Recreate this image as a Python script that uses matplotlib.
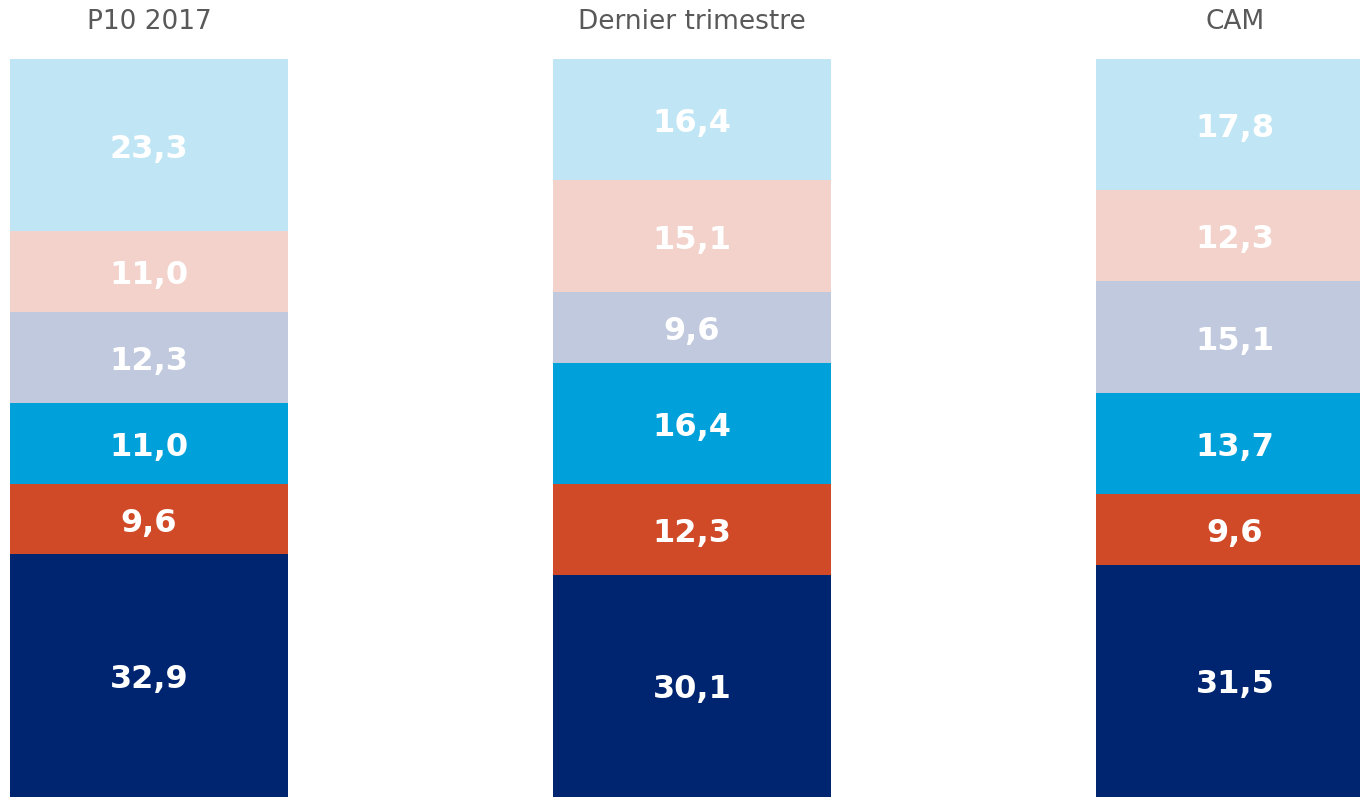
import matplotlib
matplotlib.use("Agg")
import matplotlib.pyplot as plt
import numpy as np

categories = ["P10 2017", "Dernier trimestre", "CAM"]
# segments from bottom to top
seg1 = [32.9, 30.1, 31.5]
seg2 = [9.6, 12.3, 9.6]
seg3 = [11.0, 16.4, 13.7]
seg4 = [12.3, 9.6, 15.1]
seg5 = [11.0, 15.1, 12.3]
seg6 = [23.3, 16.4, 17.8]
series = [seg1, seg2, seg3, seg4, seg5, seg6]
colors = ["#002570", "#D04A28", "#00A0DA", "#C1C9DE", "#F2D2CA", "#C0E6F5"]

totals = np.sum(np.array(series), axis=0)

fig = plt.figure(figsize=(13.6, 7.97), dpi=100)
ax = fig.add_axes([0, 0, 1, 1])
x = np.arange(len(categories))
width = 0.512
bottom = np.zeros(len(categories))
for vals, c in zip(series, colors):
    vals = np.array(vals)
    h = vals / totals * 100
    ax.bar(x, h, width=width, bottom=bottom, color=c, edgecolor="none")
    for xi, b, hv, v in zip(x, bottom, h, vals):
        ax.annotate(f"{v:.1f}".replace(".", ","), xy=(xi, b + hv / 2), xytext=(0, -3),
                    textcoords="offset points", ha="center", va="center",
                    color="white", fontsize=23, fontweight="bold")
    bottom += h

for xi, cat in zip(x, categories):
    ax.text(xi, 105.0, cat, ha="center", va="center", color="#595959", fontsize=19)

ax.set_xlim(-0.2744, 2.2302)
ax.set_ylim(0, 108.0)
ax.axis("off")
fig.savefig("out.png", dpi=100)
